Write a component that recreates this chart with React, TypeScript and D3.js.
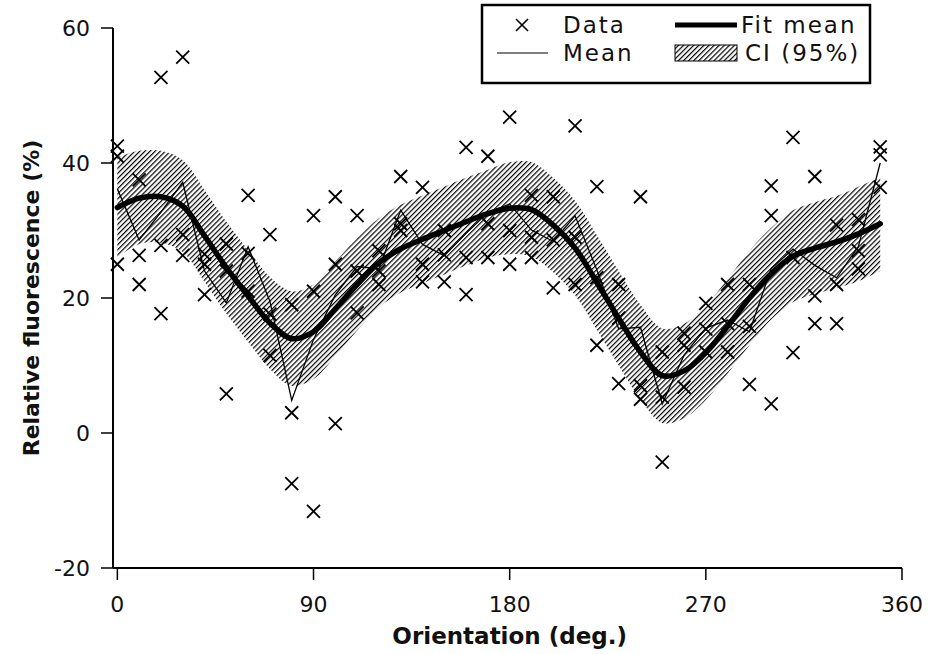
import React from 'react';
import * as d3 from 'd3';

const orientations = [0, 10, 20, 30, 40, 50, 60, 70, 80, 90, 100, 110, 120, 130, 140, 150, 160, 170, 180, 190, 200, 210, 220, 230, 240, 250, 260, 270, 280, 290, 300, 310, 320, 330, 340, 350];
const rep1 = [42.5, 37.5, 52.7, 55.7, 26.5, 28, 35.2, 29.4, 19, 32.2, 35, 32.2, 27, 38, 36.4, 30, 42.3, 41, 46.8, 35.2, 35, 45.5, 36.5, 22, 35, 12, 14.8, 19.2, 22, 22, 36.6, 43.8, 38, 30.8, 31.6, 42.4];
const rep2 = [41, 26.3, 27.8, 29.4, 25, 24, 26.6, 17.6, 3, 21, 25, 24, 24, 31, 25, 26.4, 26, 31, 30, 29, 28.6, 29, 23, 17, 7, 5.3, 13, 15.4, 16.2, 15.8, 32.2, 26, 20.3, 22, 27, 41.2];
const rep3 = [25, 22, 17.7, 26.3, 20.5, 5.8, 21, 11.5, -7.5, -11.6, 1.4, 17.8, 22, 30, 22.4, 22.4, 20.5, 26, 25, 26, 21.5, 22, 13, 7.3, 5, -4.3, 6.8, 12, 12, 7.2, 4.3, 11.9, 16.2, 16.2, 24.3, 36.4];
const fitMean = [33.4, 34.8, 35.0, 33.6, 29.2, 24.5, 20.3, 16.3, 14.0, 15.0, 18.4, 22.0, 25.2, 27.3, 28.7, 30.0, 31.3, 32.5, 33.3, 33.1, 30.8, 27.4, 22.3, 17.0, 12.0, 8.5, 9.2, 11.9, 15.8, 20.0, 23.6, 26.2, 27.4, 28.3, 29.5, 31.0];
const ciUpper = [40.8, 41.8, 41.8, 40.4, 36.0, 31.3, 27.1, 23.1, 21.0, 22.0, 25.4, 28.8, 31.8, 33.8, 35.2, 36.5, 37.8, 39.0, 40.1, 40.1, 37.8, 34.4, 29.3, 24.0, 19.0, 15.5, 16.2, 18.9, 22.8, 27.0, 30.4, 33.0, 34.2, 35.1, 36.5, 37.8];
const ciLower = [26.0, 28.0, 28.2, 26.8, 22.4, 17.7, 13.5, 9.5, 7.0, 8.0, 11.4, 15.2, 18.6, 20.8, 22.2, 23.5, 24.8, 26.0, 26.5, 26.1, 23.8, 20.4, 15.3, 10.0, 5.0, 1.5, 2.2, 4.9, 8.8, 13.0, 16.8, 19.4, 20.6, 21.5, 22.5, 24.0];
const xTicks = [0, 90, 180, 270, 360];
const yTicks = [-20, 0, 20, 40, 60];
const xTitle = 'Orientation (deg.)';
const yTitle = 'Relative fluorescence (%)';
const legendLabels = ['Data', 'Mean', 'Fit mean', 'CI (95%)'];

const FONT = '"DejaVu Sans", sans-serif';

function Cross({ cx, cy, s = 6.5, w = 1.8 }: { cx: number; cy: number; s?: number; w?: number }) {
  return (
    <path
      d={`M${cx - s},${cy - s}L${cx + s},${cy + s}M${cx - s},${cy + s}L${cx + s},${cy - s}`}
      stroke="#000"
      strokeWidth={w}
      fill="none"
    />
  );
}

export default function App() {
  const W = 930;
  const H = 654;
  const x = d3.scaleLinear().domain([-2, 360]).range([113, 902]);
  const y = d3.scaleLinear().domain([-20, 60]).range([568, 28]);
  const x0 = x.range()[0];
  const x1 = x.range()[1];
  const yBot = y.range()[0];
  const yTop = y.range()[1];

  const means = orientations.map((_, i) => (rep1[i] + rep2[i] + rep3[i]) / 3);

  const band = d3
    .area<number>()
    .x((_, i) => x(orientations[i]))
    .y0((_, i) => y(ciLower[i]))
    .y1((_, i) => y(ciUpper[i]))
    .curve(d3.curveCatmullRom)(orientations);

  const fitLine = d3
    .line<number>()
    .x((_, i) => x(orientations[i]))
    .y((d) => y(d))
    .curve(d3.curveCatmullRom)(fitMean);

  const meanLine = d3
    .line<number>()
    .x((_, i) => x(orientations[i]))
    .y((d) => y(d))(means);

  const points: { o: number; v: number }[] = [];
  orientations.forEach((o, i) => {
    [rep1[i], rep2[i], rep3[i]].forEach((v) => points.push({ o, v }));
  });

  const lg = { x: 482, y: 5, w: 388, h: 78 };
  const row1 = 25;
  const row2 = 53;
  const legendText = { fontFamily: FONT, fontSize: 23, fill: '#111', letterSpacing: 2 } as const;

  return (
    <svg
      width={W}
      height={H}
      viewBox={`0 0 ${W} ${H}`}
      style={{ position: 'absolute', left: 0, top: 0, background: '#fff' }}
    >
      <defs>
        <pattern id="hatch" width="3.6" height="3.6" patternUnits="userSpaceOnUse" patternTransform="rotate(45)">
          <rect width="3.6" height="3.6" fill="#fff" />
          <line x1="0" y1="0" x2="0" y2="3.6" stroke="#000" strokeWidth="2.4" />
        </pattern>
      </defs>
      <rect width={W} height={H} fill="#fff" />

      <path d={band || ''} fill="url(#hatch)" stroke="none" />

      {points.map((p, i) => (
        <Cross key={i} cx={x(p.o)} cy={y(p.v)} />
      ))}

      <path d={meanLine || ''} fill="none" stroke="#000" strokeWidth={1.3} />

      <path d={fitLine || ''} fill="none" stroke="#000" strokeWidth={5.5} strokeLinejoin="round" strokeLinecap="round" />

      <line x1={x0} y1={yTop} x2={x0} y2={yBot} stroke="#000" strokeWidth={2} />
      <line x1={x0} y1={yBot} x2={x1} y2={yBot} stroke="#000" strokeWidth={2} />
      {yTicks.map((t) => (
        <g key={'y' + t}>
          <line x1={x0 - 12} x2={x0} y1={y(t)} y2={y(t)} stroke="#000" strokeWidth={1.5} />
          <text x={90} y={y(t)} dy="0.35em" textAnchor="end" fontFamily={FONT} fontSize={22} fill="#111">
            {t}
          </text>
        </g>
      ))}
      {xTicks.map((t) => (
        <g key={'x' + t}>
          <line x1={x(t)} x2={x(t)} y1={yBot} y2={yBot + 12} stroke="#000" strokeWidth={1.5} />
          <text x={x(t)} y={612} textAnchor="middle" fontFamily={FONT} fontSize={22} fill="#111">
            {t}
          </text>
        </g>
      ))}
      <text x={x(180)} y={644} textAnchor="middle" fontFamily={FONT} fontSize={23} fontWeight="bold" fill="#111">
        {xTitle}
      </text>
      <text
        transform={`translate(39,${(yTop + yBot) / 2}) rotate(-90)`}
        textAnchor="middle"
        fontFamily={FONT}
        fontSize={22}
        fontWeight="bold"
        fill="#111"
      >
        {yTitle}
      </text>

      <rect x={lg.x} y={lg.y} width={lg.w} height={lg.h} fill="#fff" stroke="#000" strokeWidth={2.5} />
      <Cross cx={522} cy={row1} s={6} w={1.6} />
      <text x={563} y={row1} dy="0.35em" {...legendText}>
        {legendLabels[0]}
      </text>
      <line x1={497} x2={548} y1={row2} y2={row2} stroke="#000" strokeWidth={1.2} />
      <text x={563} y={row2} dy="0.35em" {...legendText}>
        {legendLabels[1]}
      </text>
      <line x1={675} x2={737} y1={row1} y2={row1} stroke="#000" strokeWidth={5} />
      <text x={741} y={row1} dy="0.35em" {...legendText}>
        {legendLabels[2]}
      </text>
      <rect x={675} y={row2 - 8} width={62} height={16} fill="url(#hatch)" stroke="#000" strokeWidth={1} />
      <text x={745} y={row2} dy="0.35em" {...legendText}>
        {legendLabels[3]}
      </text>
    </svg>
  );
}
